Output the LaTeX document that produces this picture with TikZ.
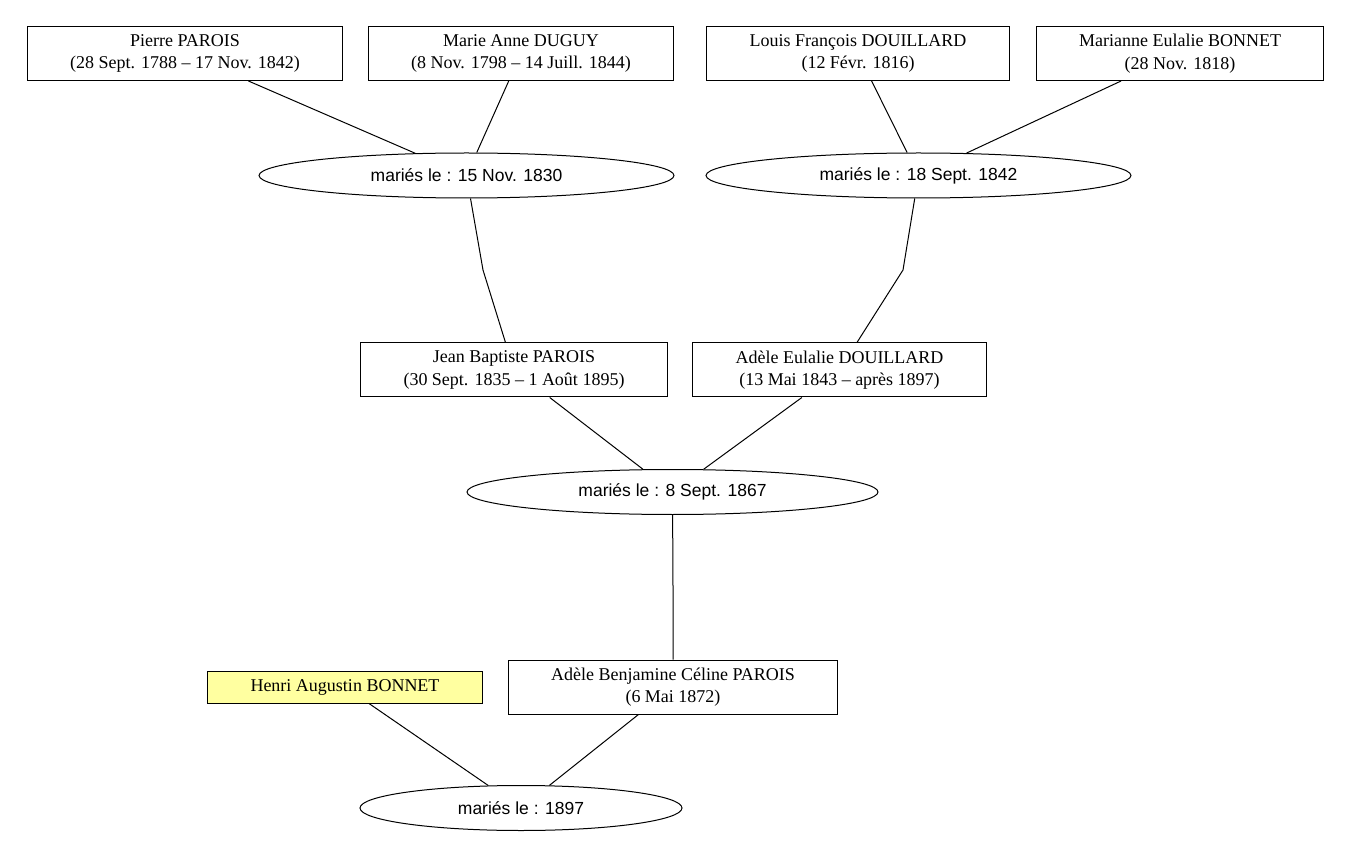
\documentclass[tikz,border=0pt]{standalone}
\usepackage{fontspec}
\setmainfont{Liberation Serif}
\setsansfont{Liberation Sans}
\usepackage{tikz}
\usetikzlibrary{shapes.geometric}
\definecolor{highlight}{HTML}{FFFFA0}
\tikzset{
    x=1pt, y=-1pt, % one unit is one pixel of the reference
    }

\begin{document}
\begin{tikzpicture}[
personnode/.style={rectangle, draw=black, line width=1pt, align=center, inner xsep=43pt, inner ysep=0pt, minimum height=54pt, font=\fontsize{18}{22.5}\selectfont},
chosennode/.style={personnode, fill=highlight, minimum height=32pt},
marriagenode/.style={ellipse, draw=black, line width=1pt, inner sep=0pt, minimum height=45pt, font=\sffamily\fontsize{17.5}{20}\selectfont},
link/.style={line width=1pt},
]
\useasboundingbox (0,0) rectangle (1352,858);

\node[personnode] (pierre) at (185,53.5) {Pierre PAROIS\\(28 Sept. 1788 -- 17 Nov. 1842)};
\node[personnode] (marie) at (521,53.5) {Marie Anne DUGUY\\(8 Nov. 1798 -- 14 Juill. 1844)};
\node[personnode] (louis) at (858,53.5) {Louis François DOUILLARD\\(12 Févr. 1816)};
\node[personnode] (marianne) at (1180,53.5) {Marianne Eulalie BONNET\\(28 Nov. 1818)};

\node[marriagenode, minimum width=415pt] (wedA) at (466.5,175.5) {mariés le : 15 Nov. 1830};
\node[marriagenode, minimum width=425pt] (wedB) at (918.5,175.5) {mariés le : 18 Sept. 1842};

\node[personnode] (jean) at (514,370) {Jean Baptiste PAROIS\\(30 Sept. 1835 -- 1 Août 1895)};
\node[personnode] (adele) at (839.5,370) {Adèle Eulalie DOUILLARD\\(13 Mai 1843 -- après 1897)};

\node[marriagenode, minimum width=411pt] (wedC) at (672.5,492) {mariés le : 8 Sept. 1867};

\node[chosennode] (henri) at (345,687) {Henri Augustin BONNET};
\node[personnode] (celine) at (673,687) {Adèle Benjamine Céline PAROIS\\(6 Mai 1872)};

\node[marriagenode, minimum width=322pt] (wedD) at (521,808) {mariés le : 1897};

\coordinate (bendA) at (483,270);
\coordinate (bendB) at (903,270);
\coordinate (bendC) at (673,587);

\draw[link] (pierre) -- (wedA);
\draw[link] (marie) -- (wedA);
\draw[link] (louis) -- (wedB);
\draw[link] (marianne) -- (wedB);
\draw[link] (wedA) -- (bendA) -- (jean);
\draw[link] (wedB) -- (bendB) -- (adele);
\draw[link] (jean) -- (wedC);
\draw[link] (adele) -- (wedC);
\draw[link] (wedC) -- (bendC) -- (celine);
\draw[link] (henri) -- (wedD);
\draw[link] (celine) -- (wedD);
\end{tikzpicture}
\end{document}
